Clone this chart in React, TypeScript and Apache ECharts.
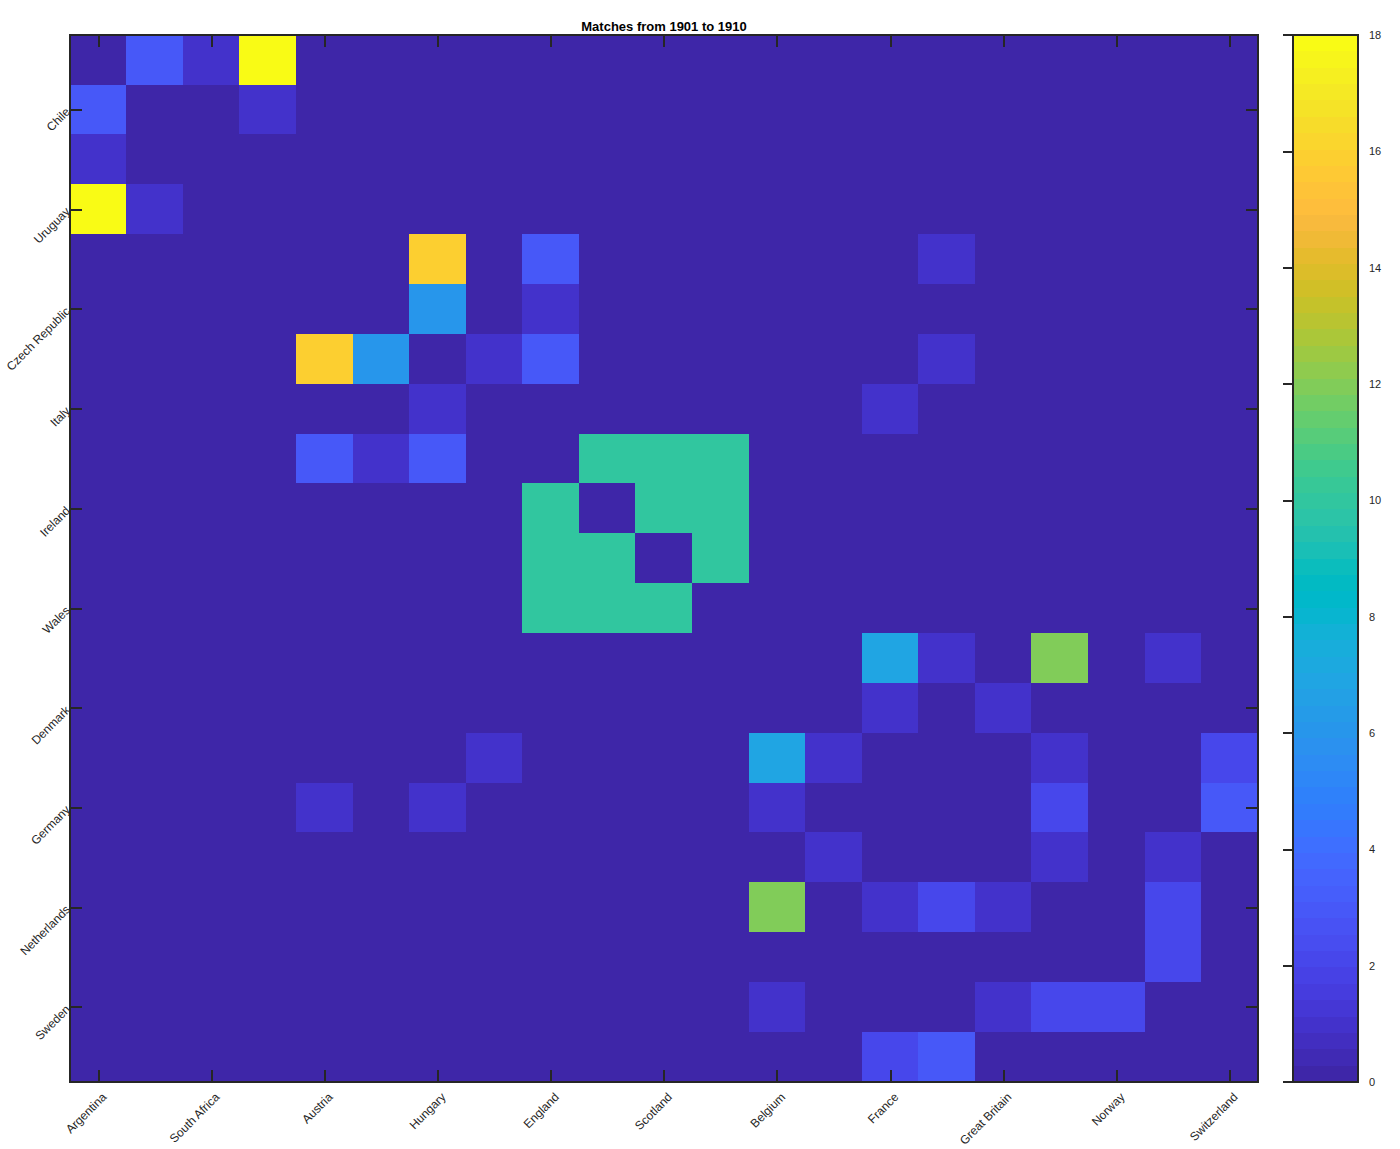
import React, { useEffect, useRef } from "react";
import * as echarts from "echarts";

const titleText = "Matches from 1901 to 1910";

const countries = [
  "Argentina", "Chile", "South Africa", "Uruguay", "Austria", "Czech Republic", "Hungary",
  "Italy", "England", "Ireland", "Scotland", "Wales", "Belgium", "Denmark", "France",
  "Germany", "Great Britain", "Netherlands", "Norway", "Sweden", "Switzerland",
];

// matches between country (row) and country (column), same order as countries
const argentinaRow = [0, 3, 1, 18, 0, 0, 0, 0, 0, 0, 0, 0, 0, 0, 0, 0, 0, 0, 0, 0, 0];
const chileRow = [3, 0, 0, 1, 0, 0, 0, 0, 0, 0, 0, 0, 0, 0, 0, 0, 0, 0, 0, 0, 0];
const southAfricaRow = [1, 0, 0, 0, 0, 0, 0, 0, 0, 0, 0, 0, 0, 0, 0, 0, 0, 0, 0, 0, 0];
const uruguayRow = [18, 1, 0, 0, 0, 0, 0, 0, 0, 0, 0, 0, 0, 0, 0, 0, 0, 0, 0, 0, 0];
const austriaRow = [0, 0, 0, 0, 0, 0, 16, 0, 3, 0, 0, 0, 0, 0, 0, 1, 0, 0, 0, 0, 0];
const czechRow = [0, 0, 0, 0, 0, 0, 6, 0, 1, 0, 0, 0, 0, 0, 0, 0, 0, 0, 0, 0, 0];
const hungaryRow = [0, 0, 0, 0, 16, 6, 0, 1, 3, 0, 0, 0, 0, 0, 0, 1, 0, 0, 0, 0, 0];
const italyRow = [0, 0, 0, 0, 0, 0, 1, 0, 0, 0, 0, 0, 0, 0, 1, 0, 0, 0, 0, 0, 0];
const englandRow = [0, 0, 0, 0, 3, 1, 3, 0, 0, 10, 10, 10, 0, 0, 0, 0, 0, 0, 0, 0, 0];
const irelandRow = [0, 0, 0, 0, 0, 0, 0, 0, 10, 0, 10, 10, 0, 0, 0, 0, 0, 0, 0, 0, 0];
const scotlandRow = [0, 0, 0, 0, 0, 0, 0, 0, 10, 10, 0, 10, 0, 0, 0, 0, 0, 0, 0, 0, 0];
const walesRow = [0, 0, 0, 0, 0, 0, 0, 0, 10, 10, 10, 0, 0, 0, 0, 0, 0, 0, 0, 0, 0];
const belgiumRow = [0, 0, 0, 0, 0, 0, 0, 0, 0, 0, 0, 0, 0, 0, 7, 1, 0, 12, 0, 1, 0];
const denmarkRow = [0, 0, 0, 0, 0, 0, 0, 0, 0, 0, 0, 0, 0, 0, 1, 0, 1, 0, 0, 0, 0];
const franceRow = [0, 0, 0, 0, 0, 0, 0, 1, 0, 0, 0, 0, 7, 1, 0, 0, 0, 1, 0, 0, 2];
const germanyRow = [0, 0, 0, 0, 1, 0, 1, 0, 0, 0, 0, 0, 1, 0, 0, 0, 0, 2, 0, 0, 3];
const greatBritainRow = [0, 0, 0, 0, 0, 0, 0, 0, 0, 0, 0, 0, 0, 1, 0, 0, 0, 1, 0, 1, 0];
const netherlandsRow = [0, 0, 0, 0, 0, 0, 0, 0, 0, 0, 0, 0, 12, 0, 1, 2, 1, 0, 0, 2, 0];
const norwayRow = [0, 0, 0, 0, 0, 0, 0, 0, 0, 0, 0, 0, 0, 0, 0, 0, 0, 0, 0, 2, 0];
const swedenRow = [0, 0, 0, 0, 0, 0, 0, 0, 0, 0, 0, 0, 1, 0, 0, 0, 1, 2, 2, 0, 0];
const switzerlandRow = [0, 0, 0, 0, 0, 0, 0, 0, 0, 0, 0, 0, 0, 0, 2, 3, 0, 0, 0, 0, 0];

const matchRows = [
  argentinaRow, chileRow, southAfricaRow, uruguayRow, austriaRow, czechRow, hungaryRow,
  italyRow, englandRow, irelandRow, scotlandRow, walesRow, belgiumRow, denmarkRow, franceRow,
  germanyRow, greatBritainRow, netherlandsRow, norwayRow, swedenRow, switzerlandRow,
];

const colorMin = 0;
const colorMax = 18;
const colorTickStep = 2;

// MATLAB parula, 64 entries
const parula = [
  "#3e26a8", "#402ab4", "#422ec0", "#4332cb", "#4537d5", "#463cde", "#4741e5", "#4747eb",
  "#484df0", "#4852f4", "#4758f8", "#465efb", "#4563fd", "#4269fe", "#3e6fff", "#3875fe",
  "#327cfc", "#2f81fa", "#2e87f7", "#2d8cf3", "#2b91ef", "#2796eb", "#259be8", "#23a0e5",
  "#20a5e3", "#1ca9df", "#18addb", "#12b1d6", "#08b5d0", "#01b8ca", "#02bac3", "#0bbdbd",
  "#19bfb6", "#24c1ae", "#2cc4a7", "#31c69f", "#37c897", "#3fca8e", "#4acb84", "#57cc7a",
  "#64cd6f", "#72cd64", "#81cc59", "#8fcb4e", "#9dc943", "#abc739", "#b9c431", "#c5c22a",
  "#d1bf27", "#dcbd29", "#e6bb2d", "#f0ba36", "#f8ba3d", "#febe3c", "#fec338", "#fec934",
  "#fccf30", "#fad62d", "#f7dc2a", "#f5e327", "#f5e924", "#f6ef20", "#f7f51b", "#f9fb15",
];

const FONT = '"Liberation Sans", Arial, Helvetica, sans-serif';
const INK = "#262626";

export default function App() {
  const ref = useRef<HTMLDivElement>(null);

  useEffect(() => {
    if (!ref.current) return;
    const chart = echarts.init(ref.current, null, { renderer: "svg" });

    const data: number[][] = [];
    matchRows.forEach((row, i) => row.forEach((v, j) => data.push([j, i, v])));

    const n = parula.length;
    const span = colorMax - colorMin;
    const pieces = parula.map((c, k) =>
      k === n - 1
        ? { gte: colorMin + (k * span) / n, lte: colorMax, color: c }
        : { gte: colorMin + (k * span) / n, lt: colorMin + ((k + 1) * span) / n, color: c }
    );
    const stops: { offset: number; color: string }[] = [];
    parula.forEach((c, k) => {
      stops.push({ offset: k / n, color: c });
      stops.push({ offset: (k + 1) / n, color: c });
    });

    const lineStyle = { color: INK, width: 1.5 };
    const oddCol = (i: number) => i % 2 === 0;
    const evenRow = (i: number) => i % 2 === 1;

    chart.setOption({
      animation: false,
      backgroundColor: "#ffffff",
      grid: [
        { left: 70, top: 35, width: 1188, height: 1047, show: false },
        { left: 76, top: 35, width: 1188, height: 1047, show: false },
        { left: 1293, top: 35, width: 65, height: 1047, show: false },
      ],
      xAxis: [
        {
          type: "category", gridIndex: 0, data: countries, position: "bottom", z: 10,
          axisLine: { show: true, lineStyle },
          axisTick: { show: true, inside: true, length: 12, alignWithLabel: true, interval: oddCol, lineStyle },
          axisLabel: { show: false }, splitLine: { show: false },
        },
        {
          type: "category", gridIndex: 0, data: countries, position: "top", z: 10,
          axisLine: { show: true, lineStyle },
          axisTick: { show: true, inside: true, length: 12, alignWithLabel: true, interval: oddCol, lineStyle },
          axisLabel: { show: false }, splitLine: { show: false },
        },
        {
          type: "category", gridIndex: 1, data: countries, position: "bottom",
          axisLine: { show: false }, axisTick: { show: false }, splitLine: { show: false },
          axisLabel: { show: true, interval: oddCol, rotate: 45, margin: 14, fontSize: 12, color: INK, fontFamily: FONT },
        },
        { type: "value", gridIndex: 2, min: 0, max: 1, show: false },
      ],
      yAxis: [
        {
          type: "category", gridIndex: 0, data: countries, inverse: true, position: "left", z: 10,
          axisLine: { show: true, lineStyle },
          axisTick: { show: true, inside: true, length: 12, alignWithLabel: true, interval: evenRow, lineStyle },
          axisLabel: { show: true, interval: evenRow, rotate: 45, margin: 2, fontSize: 12, color: INK, fontFamily: FONT },
          splitLine: { show: false },
        },
        {
          type: "category", gridIndex: 0, data: countries, inverse: true, position: "right", z: 10,
          axisLine: { show: true, lineStyle },
          axisTick: { show: true, inside: true, length: 12, alignWithLabel: true, interval: evenRow, lineStyle },
          axisLabel: { show: false }, splitLine: { show: false },
        },
        { type: "value", gridIndex: 1, min: 0, max: 1, show: false },
        {
          type: "value", gridIndex: 2, min: colorMin, max: colorMax, interval: colorTickStep,
          position: "right", z: 10,
          axisLine: { show: true, lineStyle },
          axisTick: { show: true, inside: true, length: 10, lineStyle },
          axisLabel: { show: true, margin: 11, fontSize: 11, color: INK, fontFamily: FONT },
          splitLine: { show: false },
        },
      ],
      visualMap: {
        type: "piecewise", show: false, dimension: 2, seriesIndex: 0, pieces,
      },
      graphic: [
        {
          type: "rect", z: 0,
          shape: { x: 1293, y: 35, width: 65, height: 1047 },
          style: {
            fill: { type: "linear", x: 0, y: 1, x2: 0, y2: 0, colorStops: stops, global: false },
            stroke: INK, lineWidth: 1.5,
          },
        },
        {
          type: "text", x: 664, y: 26,
          style: {
            text: titleText, fill: "#000000",
            font: 'bold 13px "Liberation Sans", Arial, Helvetica, sans-serif',
            textAlign: "center", textVerticalAlign: "middle",
            align: "center", verticalAlign: "middle",
          },
        },
      ],
      series: [
        {
          type: "heatmap", xAxisIndex: 0, yAxisIndex: 0, data, z: 2,
          itemStyle: { borderWidth: 0 },
          emphasis: { disabled: true },
          label: { show: false },
        },
      ],
    });

    return () => chart.dispose();
  }, []);

  return (
    <>
      <style>{".matches-chart svg path { shape-rendering: crispEdges; }"}</style>
      <div
        ref={ref}
        className="matches-chart"
        style={{ position: "fixed", left: 0, top: 0, width: 1400, height: 1149, background: "#fff" }}
      />
    </>
  );
}
